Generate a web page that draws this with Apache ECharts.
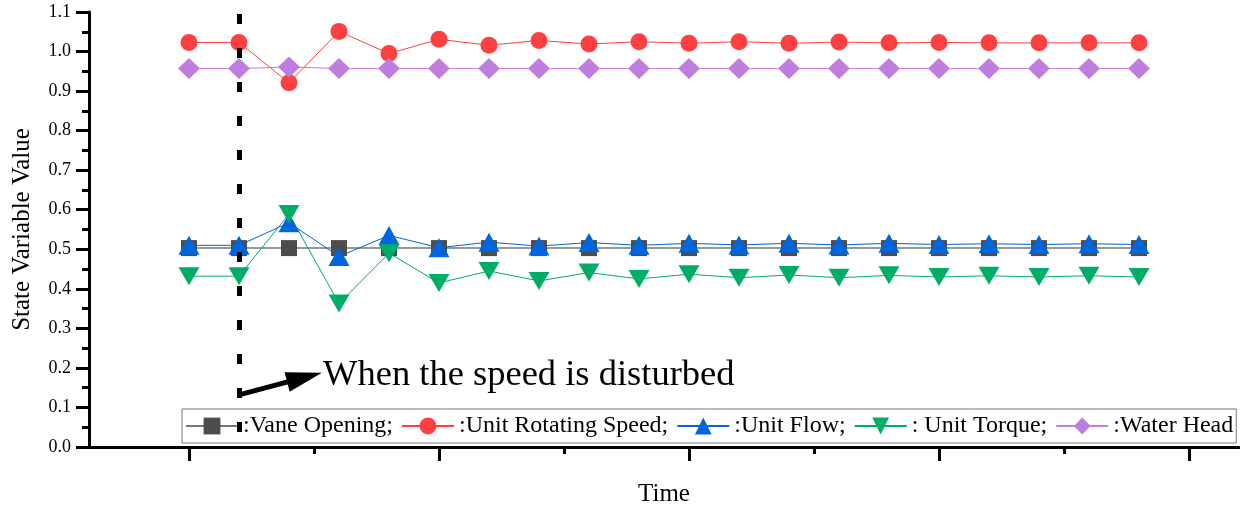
<!DOCTYPE html>
<html><head><meta charset="utf-8">
<script src="https://cdn.jsdelivr.net/npm/echarts@6/dist/echarts.min.js"></script>
<style>html,body{margin:0;padding:0;background:#fff}#c{width:1240px;height:507px}</style>
</head><body><div id="c"></div>
<script>
const FONT = "'Liberation Serif','Times New Roman',serif";

const times = [0,1,2,3,4,5,6,7,8,9,10,11,12,13,14,15,16,17,18,19];
const vaneOpening   = [0.503,0.503,0.503,0.503,0.503,0.503,0.503,0.503,0.503,0.503,0.503,0.503,0.503,0.503,0.503,0.503,0.503,0.503,0.503,0.503];
const rotatingSpeed = [1.023,1.023,0.921,1.051,0.995,1.031,1.016,1.028,1.019,1.025,1.021,1.025,1.021,1.024,1.022,1.023,1.022,1.022,1.022,1.022];
const unitFlow      = [0.510,0.510,0.567,0.482,0.535,0.504,0.518,0.508,0.517,0.510,0.515,0.511,0.515,0.511,0.515,0.512,0.514,0.512,0.514,0.512];
const unitTorque    = [0.432,0.432,0.589,0.363,0.490,0.415,0.445,0.420,0.441,0.425,0.437,0.428,0.435,0.428,0.434,0.430,0.433,0.430,0.433,0.430];
const waterHead     = [0.957,0.957,0.961,0.957,0.957,0.957,0.957,0.957,0.957,0.957,0.957,0.957,0.957,0.957,0.957,0.957,0.957,0.957,0.957,0.957];

const seriesNames = [':Vane Opening;', ':Unit Rotating Speed;', ':Unit Flow;', ': Unit Torque;', ':Water Head'];
const xMajorTicks = [0,5,10,15,20];
const xMinorTicks = [2.5,7.5,12.5,17.5];
const disturbX = 1;
const arrowStart = [1, 0.132];
const arrowEnd = [2.31, 0.176];
const annotationText = 'When the speed is disturbed';

function pts(arr){ return arr.map((v,i)=>[times[i], v]); }

const chart = echarts.init(document.getElementById('c'), null, {renderer:'canvas'});
chart.setOption({
  animation:false,
  backgroundColor:'#fff',
  grid:{left:89, right:1, top:12, bottom:60, containLabel:false, outerBoundsMode:'none'},
  legend:{
    left:182, top:409, itemWidth:52, itemHeight:21, itemGap:8,
    padding:[5,3,5,3], borderColor:'#777', borderWidth:1,
    textStyle:{fontSize:24, fontFamily:FONT, color:'#000'},
    data:seriesNames
  },
  xAxis:[
    {type:'value', min:-2, max:21, position:'bottom',
     axisLine:{show:true, onZero:false, lineStyle:{color:'#000', width:3}},
     axisTick:{show:true, customValues:xMajorTicks, length:14, lineStyle:{color:'#000', width:3}},
     axisLabel:{show:false}, splitLine:{show:false},
     name:'Time', nameLocation:'middle', nameGap:35,
     nameTextStyle:{fontSize:25, fontFamily:FONT, color:'#000'}},
    {type:'value', min:-2, max:21, position:'bottom',
     axisLine:{show:false, onZero:false},
     axisTick:{show:true, customValues:xMinorTicks, length:7, lineStyle:{color:'#000', width:3}},
     axisLabel:{show:false}, splitLine:{show:false}}
  ],
  yAxis:{
    type:'value', min:0, max:1.1, interval:0.1,
    axisLine:{show:true, onZero:false, lineStyle:{color:'#000', width:3}},
    axisTick:{show:true, length:13, lineStyle:{color:'#000', width:3}},
    minorTick:{show:true, splitNumber:2, length:7, lineStyle:{color:'#000', width:3}},
    axisLabel:{formatter:v=>v.toFixed(1), fontSize:18, fontFamily:FONT, color:'#000', margin:18},
    splitLine:{show:false}, minorSplitLine:{show:false},
    name:'State Variable Value', nameLocation:'middle', nameGap:54, nameRotate:90,
    nameTextStyle:{fontSize:25, fontFamily:FONT, color:'#000'}
  },
  graphic:[
    {type:'text', left:323, top:357, silent:true,
     style:{text:annotationText, font:'36.5px '+FONT, fill:'#000'}}
  ],
  series:[
    {name:seriesNames[0], type:'line', data:pts(vaneOpening), symbol:'rect', symbolSize:16,
     itemStyle:{color:'#4d4d4d'}, lineStyle:{color:'#777', width:1.5},
     markLine:{silent:true, animation:false, symbol:'none', label:{show:false},
       lineStyle:{color:'#000', width:5, type:'solid'},
       data:[
         {xAxis:disturbX, lineStyle:{color:'#000', width:5, type:[10,24], dashOffset:19}},
         [{coord:arrowStart, symbol:'none'}, {coord:arrowEnd, symbol:'triangle', symbolSize:[20,36]}]
       ]}},
    {name:seriesNames[1], type:'line', data:pts(rotatingSpeed), symbol:'circle', symbolSize:17,
     itemStyle:{color:'#ff4040'}, lineStyle:{color:'#ff4040', width:1}},
    {name:seriesNames[2], type:'line', data:pts(unitFlow), symbol:'triangle', symbolSize:[21,19],
     itemStyle:{color:'#0066dd'}, lineStyle:{color:'#0066dd', width:1}},
    {name:seriesNames[3], type:'line', data:pts(unitTorque), symbol:'triangle', symbolRotate:180, symbolSize:[21,18],
     itemStyle:{color:'#00ad66'}, lineStyle:{color:'#00ad66', width:1}},
    {name:seriesNames[4], type:'line', data:pts(waterHead), symbol:'diamond', symbolSize:[22,21],
     itemStyle:{color:'#c07de0'}, lineStyle:{color:'#c07de0', width:1}}
  ]
});
</script></body></html>
